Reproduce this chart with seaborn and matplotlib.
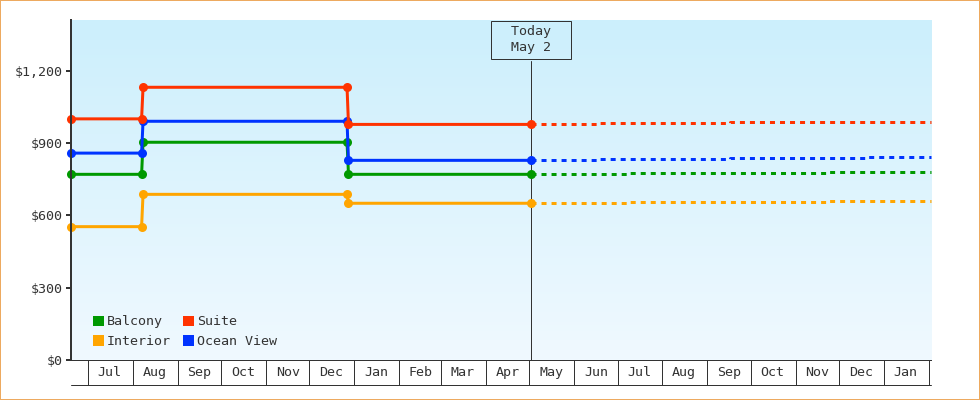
import numpy as np
import pandas as pd
import matplotlib
matplotlib.use("Agg")
import matplotlib.pyplot as plt
import matplotlib.dates as mdates
import matplotlib.transforms as mtransforms
from matplotlib.colors import LinearSegmentedColormap
from matplotlib.patches import Patch, Rectangle
from matplotlib.ticker import FuncFormatter, NullFormatter, FixedLocator
import seaborn as sns

# observed fares up to today
actual_dates = ["2023-06-19", "2023-08-07", "2023-08-08", "2023-12-27", "2023-12-28", "2024-05-02"]
balcony = [770, 770, 903, 903, 770, 770]
interior = [553, 553, 687, 687, 650, 650]
suite = [1000, 1000, 1131, 1131, 977, 977]
ocean_view = [858, 858, 990, 990, 828, 828]

# projected fares after today
proj_dates_a = ["2024-05-02 00:00", "2024-06-19 00:00", "2024-09-17 00:00", "2024-12-19 00:00", "2025-02-02 10:00"]
suite_proj = [977, 981, 985, 989, 989]
ocean_view_proj = [828, 832, 836, 840, 840]
proj_dates_b = ["2024-05-02 00:00", "2024-07-09 00:00", "2024-11-24 00:00", "2025-02-02 10:00"]
balcony_proj = [770, 774, 778, 778]
interior_proj = [650, 654, 658, 658]

today = "2024-05-02"
today_label = "Today\nMay 2"
x_start, x_end = "2023-06-19", "2025-02-02 10:00"
y_ticks = [0, 300, 600, 900, 1200]
y_max = 1410

draw_order = ["Interior", "Balcony", "Ocean View", "Suite"]
legend_order = ["Balcony", "Interior", "Suite", "Ocean View"]
colors = {"Balcony": "#009900", "Interior": "#FFA500", "Suite": "#FF3300", "Ocean View": "#0033FF"}
INK = "#333333"


def long_frame(parts):
    frames = []
    for name, dates, vals in parts:
        frames.append(pd.DataFrame({"date": pd.to_datetime(dates, format="ISO8601"),
                                    "fare": vals, "cabin": name}))
    return pd.concat(frames, ignore_index=True)


actual = long_frame([
    ("Balcony", actual_dates, balcony),
    ("Interior", actual_dates, interior),
    ("Suite", actual_dates, suite),
    ("Ocean View", actual_dates, ocean_view),
])
projected = long_frame([
    ("Balcony", proj_dates_b, balcony_proj),
    ("Interior", proj_dates_b, interior_proj),
    ("Suite", proj_dates_a, suite_proj),
    ("Ocean View", proj_dates_a, ocean_view_proj),
])

sns.set_style("white")
plt.rcParams["font.family"] = ["DejaVu Sans Mono"]
plt.rcParams["font.size"] = 9.6
plt.rcParams["text.color"] = INK

fig = plt.figure(figsize=(9.8, 4), dpi=100)
ax = fig.add_axes([70.7 / 980, 40 / 400, 860 / 980, 340 / 400])

# projected (dashed, stepped) then observed (solid with markers)
sns.lineplot(data=projected, x="date", y="fare", hue="cabin", hue_order=draw_order,
             palette=colors, estimator=None, errorbar=None, legend=False, ax=ax,
             linewidth=2.16, linestyle=(0, (1.67, 1.67)), drawstyle="steps-post", clip_on=False)
sns.lineplot(data=actual, x="date", y="fare", hue="cabin", hue_order=draw_order,
             palette=colors, estimator=None, errorbar=None, legend=False, ax=ax,
             linewidth=2.16, marker="o", markersize=6.5, markeredgewidth=0, clip_on=False)

# vertical gradient background
bg = LinearSegmentedColormap.from_list("bg", ["#CCEFFC", "#F0F9FF"])
ax.imshow(np.linspace(0, 1, 256)[:, None], extent=[0, 1, 0, 1], transform=ax.transAxes,
          aspect="auto", cmap=bg, zorder=0)

ax.set_xlim(pd.Timestamp(x_start), pd.Timestamp(x_end))
ax.set_ylim(0, y_max)
ax.set_xlabel("")
ax.set_ylabel("")

# y axis
ax.yaxis.set_major_locator(FixedLocator(y_ticks))
ax.yaxis.set_major_formatter(FuncFormatter(lambda v, _: f"${v:,.0f}"))
ax.tick_params(axis="y", length=3.6, width=1.44, color=INK, labelcolor=INK,
               pad=2.2, labelsize=9.6, direction="out", left=True)

# x axis as month cells
ax.xaxis.set_major_locator(mdates.MonthLocator())
ax.xaxis.set_major_formatter(NullFormatter())
ax.xaxis.set_minor_locator(mdates.MonthLocator(bymonthday=16))
ax.xaxis.set_minor_formatter(mdates.DateFormatter("%b"))
ax.tick_params(axis="x", which="major", length=18, width=0.72, color=INK, direction="out", bottom=True)
ax.tick_params(axis="x", which="minor", length=0, pad=4.5, labelsize=9.6, labelcolor=INK, bottom=True)
ax.plot([0, 1], [-25 / 340, -25 / 340], transform=ax.transAxes, color=INK, lw=0.72, clip_on=False)

for side in ["top", "right"]:
    ax.spines[side].set_visible(False)
ax.spines["left"].set_color(INK)
ax.spines["left"].set_linewidth(1.44)
ax.spines["bottom"].set_color(INK)
ax.spines["bottom"].set_linewidth(0.72)

# today marker
t = mdates.date2num(pd.Timestamp(today))
ax.axvline(t, ymin=0, ymax=(360 - 60.7) / 340, color=INK, lw=0.72, zorder=1.5)
blend = mtransforms.blended_transform_factory(ax.transData, ax.transAxes)
box_text = "\n".join(f"  {line}  " for line in today_label.split("\n"))
ax.text(t, 1 - 5 / 340, box_text, transform=blend, ha="center", va="top", linespacing=1.35,
        multialignment="center", color=INK,
        bbox=dict(boxstyle="square,pad=0.3", fc="none", ec=INK, lw=0.72))

handles = [Patch(facecolor=colors[c], edgecolor="none", label=c) for c in legend_order]
ax.legend(handles=handles, ncol=2, loc="lower left", bbox_to_anchor=(0.026, 0.035),
          frameon=False, handlelength=0.8, handleheight=0.8, handletextpad=0.25,
          columnspacing=0.9, labelspacing=0.5, borderpad=0, borderaxespad=0,
          prop={"size": 9.6})

fig.patches.append(Rectangle((0, 0), 1, 1, transform=fig.transFigure, fill=False,
                             edgecolor="#EDAA60", linewidth=1.44))

fig.savefig("out.png", dpi=100)
